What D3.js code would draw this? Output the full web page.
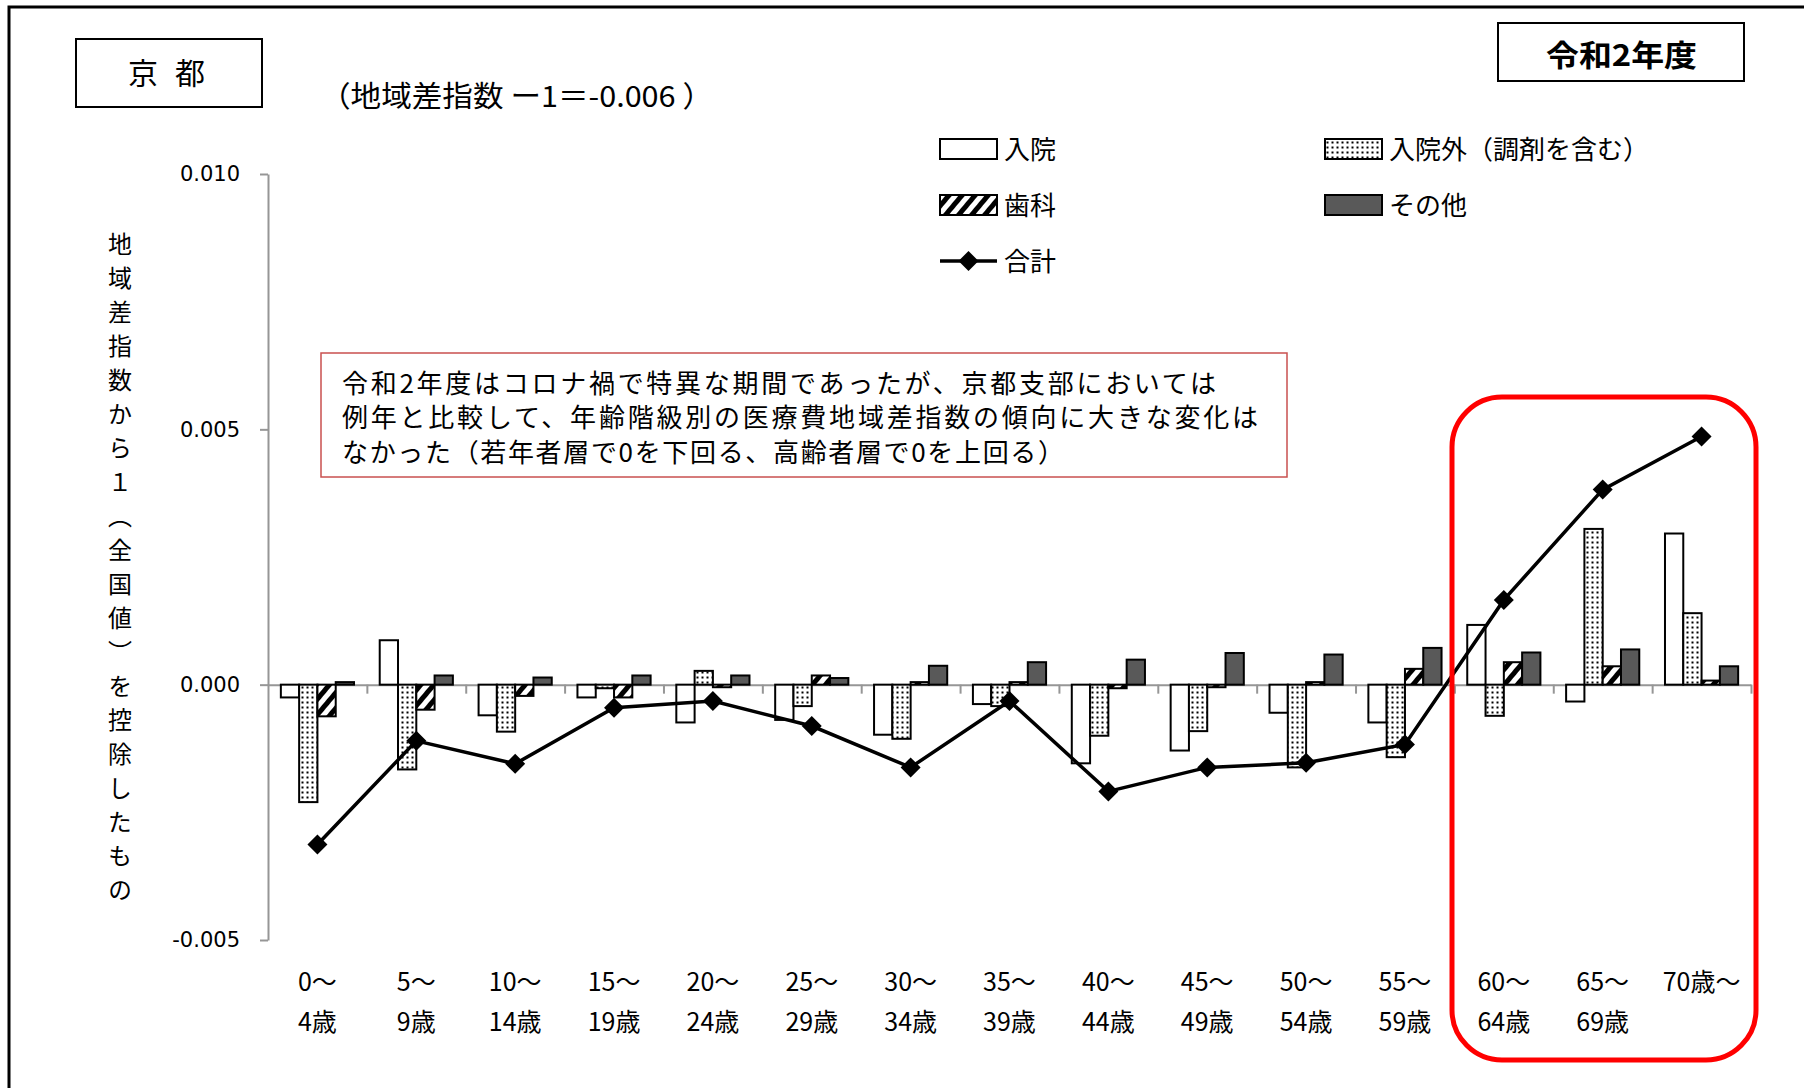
<!DOCTYPE html>
<meta charset="utf-8">
<script src="https://d3js.org/d3.v7.min.js"></script>
<style>
  body { margin: 0; background: #fff; }
  text { font-family: "Noto Sans CJK JP", "Noto Sans", sans-serif; fill: #000; }
  .axis text { font-family: "DejaVu Sans", sans-serif; font-size: 21px; fill: #000; }
  .axis path, .axis line { stroke: #969696; stroke-width: 2; }
</style>
<body>
<svg id="chart" width="1804" height="1088"></svg>
<script>
  // age groups, two label lines
  var ageTop = ["0〜", "5〜", "10〜", "15〜", "20〜", "25〜", "30〜", "35〜", "40〜", "45〜", "50〜", "55〜", "60〜", "65〜", "70歳〜"];
  var ageBottom = ["4歳", "9歳", "14歳", "19歳", "24歳", "29歳", "34歳", "39歳", "44歳", "49歳", "54歳", "59歳", "64歳", "69歳", ""];

  var seriesNames = ["入院", "入院外（調剤を含む）", "歯科", "その他"];
  var lineName = "合計";

  // 地域差指数 - 1 by component
  var nyuin = [-0.00025, 0.00087, -0.00060, -0.00025, -0.00074, -0.00069, -0.00098, -0.00038, -0.00154, -0.00129, -0.00055, -0.00074, 0.00117, -0.00033, 0.00296];
  var nyuingai = [-0.00230, -0.00166, -0.00092, -0.00007, 0.00027, -0.00042, -0.00106, -0.00042, -0.00100, -0.00091, -0.00162, -0.00142, -0.00061, 0.00305, 0.00140];
  var shika = [-0.00062, -0.00049, -0.00022, -0.00025, -0.00005, 0.00018, 0.00005, 0.00005, -0.00007, -0.00005, 0.00005, 0.00031, 0.00044, 0.00036, 0.00008];
  var sonota = [0.00005, 0.00018, 0.00014, 0.00018, 0.00018, 0.00013, 0.00037, 0.00044, 0.00049, 0.00062, 0.00059, 0.00072, 0.00063, 0.00069, 0.00036];
  var total = [-0.00313, -0.00110, -0.00155, -0.00045, -0.00032, -0.00081, -0.00162, -0.00032, -0.00209, -0.00162, -0.00153, -0.00117, 0.00166, 0.00382, 0.00486];

  var yTicks = [0.010, 0.005, 0.000, -0.005];
  var yTickLabels = ["0.010", "0.005", "0.000", "-0.005"];

  var noteLines = [
    "令和2年度はコロナ禍で特異な期間であったが、京都支部においては",
    "例年と比較して、年齢階級別の医療費地域差指数の傾向に大きな変化は",
    "なかった（若年者層で0を下回る、高齢者層で0を上回る）"
  ];

  var svg = d3.select("#chart");
  var defs = svg.append("defs");

  // dotted fill for 入院外
  var dots = defs.append("pattern").attr("id", "dots")
    .attr("patternUnits", "userSpaceOnUse").attr("width", 5).attr("height", 5);
  dots.append("rect").attr("width", 5).attr("height", 5).attr("fill", "#fff");
  dots.append("rect").attr("x", 1.5).attr("y", 1.5).attr("width", 2).attr("height", 2).attr("fill", "#000");

  // diagonal hatch for 歯科
  var hatch = defs.append("pattern").attr("id", "hatch")
    .attr("patternUnits", "userSpaceOnUse").attr("width", 10).attr("height", 10)
    .attr("patternTransform", "rotate(40)");
  hatch.append("rect").attr("width", 10).attr("height", 10).attr("fill", "#fff");
  hatch.append("rect").attr("width", 5).attr("height", 10).attr("fill", "#000");

  var fills = ["#fff", "url(#dots)", "url(#hatch)", "#595959"];
  var seriesData = [nyuin, nyuingai, shika, sonota];

  // scales
  var x = d3.scaleBand().domain(d3.range(ageTop.length)).range([268, 1751]);
  var xb = d3.scaleLinear().domain([0, ageTop.length]).range([268, 1751]);
  var x1 = d3.scaleBand().domain(d3.range(seriesData.length))
    .range([x.bandwidth() * 0.13, x.bandwidth() * 0.87]);
  var y = d3.scaleLinear().domain([-0.005, 0.010]).range([940, 174]);

  // outer frame (top and left only)
  svg.append("path").attr("d", "M9,1088 V7 H1804")
    .attr("fill", "none").attr("stroke", "#000").attr("stroke-width", 3);

  // y axis
  svg.append("g").attr("class", "axis")
    .attr("transform", "translate(268,0)")
    .call(d3.axisLeft(y).tickValues(yTicks).tickSize(8).tickSizeOuter(0).tickPadding(20)
      .tickFormat(function (d, i) { return yTickLabels[i]; }));

  // x axis at zero with boundary ticks
  svg.append("g").attr("class", "axis")
    .attr("transform", "translate(0," + y(0) + ")")
    .call(d3.axisBottom(xb).tickValues(d3.range(1, ageTop.length + 1)).tickSize(9).tickSizeOuter(0).tickFormat(""));

  // bars
  seriesData.forEach(function (vals, s) {
    svg.append("g").selectAll("rect")
      .data(vals)
      .enter()
      .append("rect")
      .attr("x", function (d, i) { return x(i) + x1(s); })
      .attr("y", function (d) { return y(Math.max(d, 0)); })
      .attr("width", x1.bandwidth())
      .attr("height", function (d) { return Math.abs(y(d) - y(0)); })
      .attr("fill", fills[s])
      .attr("stroke", "#000")
      .attr("stroke-width", 2);
  });

  // total line
  var cx = function (d, i) { return x(i) + x.bandwidth() / 2; };
  svg.append("path")
    .datum(total)
    .attr("fill", "none")
    .attr("stroke", "#000")
    .attr("stroke-width", 3.5)
    .attr("d", d3.line().x(cx).y(function (d) { return y(d); }));

  var diamond = "M0,-10 L10,0 L0,10 L-10,0 Z";
  svg.append("g").selectAll("path")
    .data(total)
    .enter()
    .append("path")
    .attr("d", diamond)
    .attr("fill", "#000")
    .attr("transform", function (d, i) { return "translate(" + cx(d, i) + "," + y(d) + ")"; });

  // x labels
  var xl = svg.append("g").style("font-size", "25px").attr("text-anchor", "middle");
  xl.selectAll("text.top").data(ageTop).enter().append("text")
    .attr("class", "top")
    .attr("x", cx).attr("y", 980).attr("dominant-baseline", "central")
    .text(function (d) { return d; });
  xl.selectAll("text.bot").data(ageBottom).enter().append("text")
    .attr("class", "bot")
    .attr("x", cx).attr("y", 1020).attr("dominant-baseline", "central")
    .text(function (d) { return d; });

  // y axis title, vertical
  svg.append("text")
    .attr("x", 120).attr("y", 232)
    .style("writing-mode", "vertical-rl")
    .style("letter-spacing", "10px")
    .style("font-size", "24px")
    .text("地域差指数から１（全国値）を控除したもの");

  // 京都 box
  svg.append("rect").attr("x", 76).attr("y", 39).attr("width", 186).attr("height", 68)
    .attr("fill", "none").attr("stroke", "#000").attr("stroke-width", 2);
  svg.append("text").attr("x", 128).attr("y", 71).attr("dominant-baseline", "central")
    .attr("textLength", 77).attr("lengthAdjust", "spacing")
    .style("font-size", "30px").text("京 都");

  // subtitle
  svg.append("text").attr("x", 320).attr("y", 94).attr("dominant-baseline", "central")
    .attr("textLength", 393).attr("lengthAdjust", "spacingAndGlyphs")
    .style("font-size", "29px").text("（地域差指数 ー1＝-0.006 ）");

  // 令和2年度 box
  svg.append("rect").attr("x", 1498).attr("y", 23).attr("width", 246).attr("height", 58)
    .attr("fill", "none").attr("stroke", "#000").attr("stroke-width", 2);
  svg.append("text").attr("x", 1546).attr("y", 53).attr("dominant-baseline", "central")
    .attr("textLength", 151).attr("lengthAdjust", "spacingAndGlyphs")
    .style("font-size", "30px").style("font-weight", "bold").text("令和2年度");

  // legend
  var legendPos = [[940, 149], [1325, 149], [940, 205], [1325, 205]];
  var lg = svg.append("g").style("font-size", "26px");
  seriesNames.forEach(function (name, s) {
    var p = legendPos[s];
    lg.append("rect").attr("x", p[0]).attr("y", p[1] - 10).attr("width", 57).attr("height", 20)
      .attr("fill", fills[s]).attr("stroke", "#000").attr("stroke-width", 2);
    lg.append("text").attr("x", p[0] + 64).attr("y", p[1] - 2).attr("dominant-baseline", "central").text(name);
  });
  lg.append("line").attr("x1", 940).attr("x2", 997).attr("y1", 261).attr("y2", 261)
    .attr("stroke", "#000").attr("stroke-width", 3.5);
  lg.append("path").attr("d", diamond).attr("transform", "translate(968.5,261)").attr("fill", "#000");
  lg.append("text").attr("x", 1004).attr("y", 259).attr("dominant-baseline", "central").text(lineName);

  // note box
  svg.append("rect").attr("x", 321).attr("y", 353).attr("width", 966).attr("height", 124)
    .attr("fill", "#fff").attr("stroke", "#c9504f").attr("stroke-width", 1.5);
  var noteLen = [874, 916, 722];
  svg.append("g").style("font-size", "26px").selectAll("text")
    .data(noteLines).enter().append("text")
    .attr("x", 342)
    .attr("y", function (d, i) { return 381 + i * 34.5; })
    .attr("dominant-baseline", "central")
    .attr("textLength", function (d, i) { return noteLen[i]; })
    .attr("lengthAdjust", "spacing")
    .text(function (d) { return d; });

  // red highlight around 60+
  svg.append("rect").attr("x", 1452).attr("y", 397).attr("width", 304).attr("height", 663)
    .attr("rx", 50).attr("ry", 50)
    .attr("fill", "none").attr("stroke", "#ff0000").attr("stroke-width", 5);
</script>
</body>
